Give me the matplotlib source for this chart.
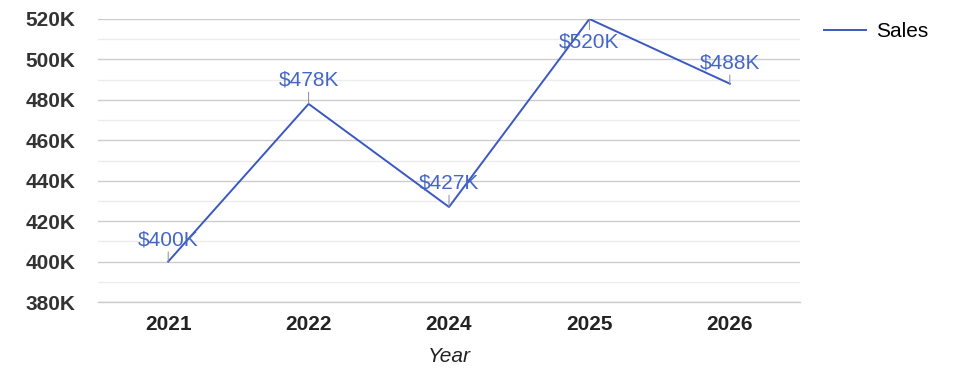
import matplotlib
matplotlib.use("Agg")
import matplotlib.pyplot as plt
from matplotlib.ticker import FuncFormatter, MultipleLocator

years = ["2021", "2022", "2024", "2025", "2026"]
sales = [400000, 478000, 427000, 520000, 488000]
labels = ["$400K", "$478K", "$427K", "$520K", "$488K"]
label_dy = [22, 24, 24, -23, 21]  # pixel offset of each value label

plt.rcParams['font.family'] = ['Liberation Sans', 'DejaVu Sans']

fig = plt.figure(figsize=(9.75, 3.78), dpi=100)
ax = fig.add_axes([98 / 975, 1 - 302 / 378, 702 / 975, 283 / 378])

x = list(range(len(years)))
line_color = '#3b58c2'
ax.plot(x, sales, color=line_color, lw=1.4, label='Sales', zorder=3)

for xi, v, txt, dy in zip(x, sales, labels, label_dy):
    ax.annotate(txt, xy=(xi, v), xytext=(0, dy), textcoords='offset pixels',
                ha='center', va='center', fontsize=15, color='#4466c6',
                arrowprops=dict(arrowstyle='-', color='#8a8a9a', lw=0.7,
                                shrinkA=0, shrinkB=0),
                zorder=4)

ax.set_xlim(-0.5, len(years) - 0.5)
ax.set_ylim(380000, 520000)
ax.set_xticks(x)
ax.set_xticklabels(years, fontsize=15, fontweight='bold', color='#222222')
ax.yaxis.set_major_locator(MultipleLocator(20000))
ax.yaxis.set_minor_locator(MultipleLocator(10000))
ax.yaxis.set_major_formatter(FuncFormatter(lambda v, p: f"{int(round(v / 1000))}K"))
for t in ax.get_yticklabels():
    t.set_fontsize(15)
    t.set_fontweight('bold')
    t.set_color('#333333')

ax.grid(axis='y', which='major', color='#cccccc', lw=1)
ax.grid(axis='y', which='minor', color='#ececec', lw=1)
ax.axhline(380000, color='#cccccc', lw=1, clip_on=False, zorder=0.5)
ax.set_axisbelow(True)
for s in ax.spines.values():
    s.set_visible(False)
ax.tick_params(axis='both', which='both', length=0)
ax.tick_params(axis='y', pad=16.5)
ax.tick_params(axis='x', pad=9)

ax.set_xlabel('Year', fontsize=15, fontstyle='italic', color='#222222', labelpad=10)

ax.legend(loc='upper left', bbox_to_anchor=(1.008, 1.055), frameon=False,
          fontsize=15, handlelength=2.0, handletextpad=0.5)

fig.savefig('out.png', dpi=100)
